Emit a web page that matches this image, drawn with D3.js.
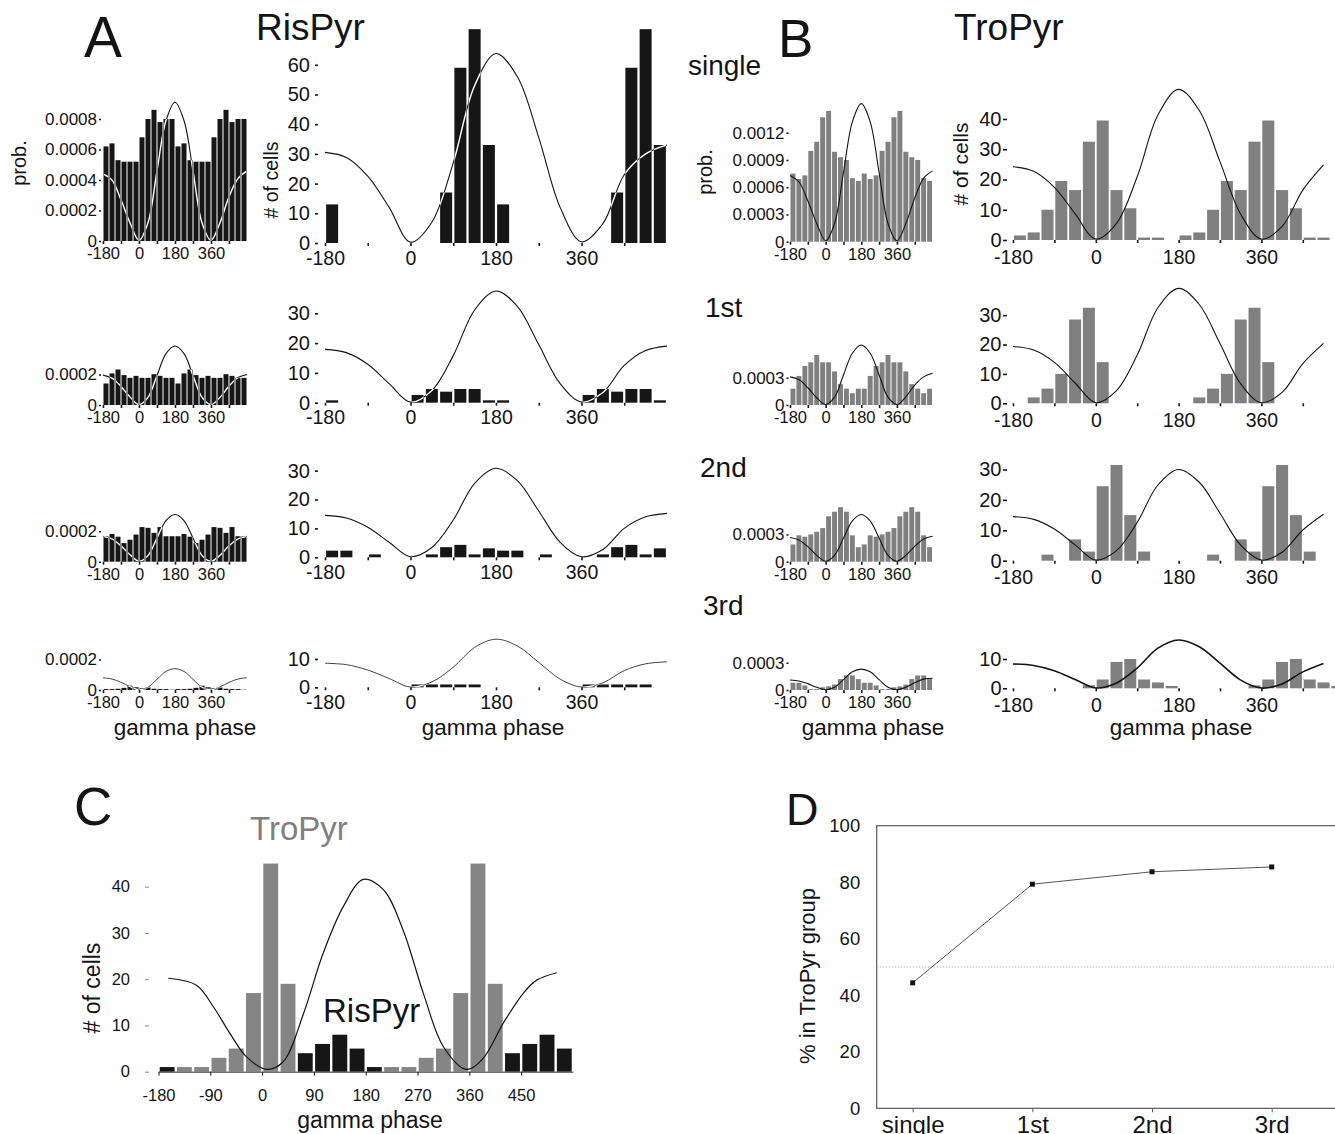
<!DOCTYPE html>
<html>
<head>
<meta charset="utf-8">
<script src="https://cdn.jsdelivr.net/npm/d3@7"></script>
<style>
  body { margin: 0; background: #fff; }
  svg { display: block; }
</style>
</head>
<body>
<svg id="fig" width="1335" height="1134"></svg>
<script>
// ---- data ----
var binStart = [-180,-150,-120,-90,-60,-30,0,30,60,90,120,150,180,210,240,270,300,330,360,390,420,450,480,510];
var phaseTicks = [-180,-90,0,90,180,270,360,450];
var phaseLabels = [-180,0,180,360];
var curvePhase = [-180,-135,-90,-45,0,45,90,135,180,225,270,315,360,405,450,495,540];
var curvePhaseB = [-180,-135,-90,-45,0,45,90,135,180,225,270,315,360,405,450,495];

// one gamma cycle of 30 deg bins; the figure shows it twice
var risProbSingle = [0.00062,0.00064,0.00053,0.00052,0.00052,0.00052,0.00068,0.0008,0.00086,0.00078,0.0008,0.0008];
var risProb1st = [0.000141,0.000207,0.000233,0.000196,0.000178,0.000191,0.000178,0.000178,0.000202,0.000191,0.000178,0.000178];
var risProb2nd = [0.000167,0.000182,0.000164,0.000122,0.000144,0.000178,0.000227,0.000222,0.000189,0.000227,0.000167,0.000167];
var risProb3rd = [0.000006,0.000006,0.000008,0.000014,0.000028,0.000018,0.000012,0.000016,0.000008,0.000006,0.000006,0.000002];

var risCountSingle = [13,0,0,0,0,0,0,0,17,59,72,33];
var risCount1st = [0.8,0,0,0,0,0,2.6,4.6,3.7,4.6,4.6,0.8];
var risCount2nd = [2.3,2.3,0,1,0,0,0,1,3.5,4.3,1,3.1];
var risCount3rd = [0,0,0,0,0,0,1,1,1,1,1,0];

var troProbSingle = [0.00075,0.00069,0.00073,0.001,0.0011,0.00137,0.00144,0.00099,0.00093,0.0009,0.0007,0.00067];
var troProb1st = [0.00018,0.00032,0.00043,0.00047,0.00055,0.00047,0.00047,0.00037,0.00023,0.00018,0.00013,0.00018];
var troProb2nd = [0.00019,0.00029,0.000275,0.0003,0.00033,0.00037,0.0005,0.00055,0.0006,0.00055,0.00029,0.00016];
var troProb3rd = [0.00008,0.00008,0.00005,0.00001,0.00001,0.00003,0.00004,0.00006,0.00012,0.00016,0.00016,0.00012];

var troCountSingle = [1.5,2.5,10,19.5,16.5,32.5,39.5,16.5,10.5,0.8,0.8,0];
var troCount1st = [0,2,5,10,28.5,32.5,14,0,0,0,0,0];
var troCount2nd = [0,0,2,0,7,3,24.5,31.5,15,3,0,0];
var troCount3rd = [0,0,0,0,0,1,3,9,10,3,2,0.8];

// gamma waveform overlays
var risProbCurveS = [0.00044,0.0004,0.00027,0.00012,0.000005,0.00012,0.00046,0.00079,0.00091,0.00079,0.00046,0.00012,0.000005,0.00012,0.00029,0.00041,0.00046];
var risProbCurve1 = [0.000196,0.000176,0.000122,0.000053,0.000003,0.00005,0.000194,0.000337,0.000387,0.000337,0.000194,0.00005,0.000003,0.00005,0.000124,0.00018,0.0002];
var risProbCurve2 = [0.000167,0.00015,0.000104,0.000045,0.000003,0.00004,0.000155,0.00027,0.00031,0.00027,0.000155,0.00004,0.000003,0.000042,0.000104,0.00015,0.000167];
var risProbCurve3 = [0.00008,0.000072,0.00005,0.000022,0.000002,0.000018,0.00007,0.000122,0.00014,0.000122,0.00007,0.000018,0.000002,0.00002,0.00005,0.000072,0.00008];

var risCountCurveS = [30.5,28.8,22.5,12,0.3,7,27,53,63.8,56,35.5,12,0.4,6.5,23,30,33];
var risCountCurve1 = [17.9,16.8,12.9,6.4,0.2,4.1,15.8,31.1,37.5,32.3,19.5,6.4,0.2,3.4,12.5,17.5,19];
var risCountCurve2 = [14.5,13.6,10.4,5.2,0.2,3.4,12.9,25.6,30.8,26.5,16,5.2,0.2,2.7,10,14,15.2];
var risCountCurve3 = [8.5,8,6.1,3.1,0.1,1.9,7.1,14.1,17,14.6,8.8,2.9,0.1,1.6,5.9,8.3,9];

var troProbCurveS = [0.00073,0.00066,0.00045,0.0002,0.00001,0.0002,0.00076,0.00132,0.00152,0.00132,0.00076,0.0002,0.00001,0.0002,0.00048,0.0007,0.00078];
var troProbCurve1 = [0.00031,0.00028,0.00019,0.00008,0.000005,0.000086,0.00033,0.00057,0.00066,0.00057,0.00033,0.000086,0.000005,0.00009,0.00022,0.00031,0.00035];
var troProbCurve2 = [0.000267,0.00024,0.000166,0.00007,0.000005,0.00007,0.00026,0.00045,0.00052,0.00045,0.00026,0.00007,0.000005,0.00007,0.00017,0.00025,0.00028];
var troProbCurve3 = [0.00011,0.0001,0.00007,0.00003,0.000003,0.00003,0.000115,0.0002,0.00023,0.0002,0.000115,0.00003,0.000003,0.00003,0.00008,0.00012,0.00013];

var troCountCurveS = [24.2,22.7,17.4,8.7,0.3,5.5,20.9,41.3,49.8,42.8,25.9,8.5,0.3,4.5,16.5,24.8];
var troCountCurve1 = [19.3,18.1,13.9,6.9,0.2,4.3,16.4,32.5,39.1,33.6,20.3,6.6,0.2,3.7,13.5,20.4];
var troCountCurve2 = [14.5,13.6,10.4,5.2,0.2,3.3,12.6,24.9,30,25.8,15.6,5.1,0.2,2.8,10.1,15.3];
var troCountCurve3 = [8.3,7.8,6,3,0.1,1.8,6.9,13.7,16.5,14.2,8.6,2.8,0.1,1.5,5.6,8.5];

// panel C
var mergedCount = [1,1,1,3,5,17,45,19,4,6,8,5];
var mergedGroup = ["Ris","Tro","Tro","Tro","Tro","Tro","Tro","Tro","Ris","Ris","Ris","Ris"];
var cTicks = [-180,-90,0,90,180,270,360,450];
var cPhase = [-163,-114,-85,-56,-27,8,37,72,106,141,176,211,245,280,315,355,384,419,454,477,512];
var cCurve = [20.2,18.7,14.1,8.3,3.2,0.5,2.2,12.6,25.6,35.7,41.6,39.3,30.6,17,5.4,0.5,2.9,10.5,17,19.8,21.4];

// panel D
var stages = ["single","1st","2nd","3rd"];
var troPct = [44.4,79.3,83.7,85.4];

// ---- drawing ----
var svg = d3.select("#fig");
var FONT = "'Liberation Sans', Arial, Helvetica, sans-serif";
var INK = "#141414";
var GREY = "#808080";
var defs = svg.append("defs");
var clipId = 0;

function label(txt, x, y, size, o) {
  o = o || {};
  var t = svg.append("text").attr("x", x).attr("y", y)
    .attr("font-family", FONT).attr("font-size", size)
    .attr("fill", o.fill || INK).attr("text-anchor", o.anchor || "start")
    .text(txt);
  if (o.rotate) t.attr("transform", "rotate(-90," + x + "," + y + ")");
  return t;
}

var probFmt = function(d) { return d === 0 ? "0" : d.toFixed(4); };
var countFmt = function(d) { return String(d); };

function histPanel(c) {
  var x = d3.scaleLinear().domain([-180, 540]).range([c.left, c.left + 720 * c.degPx]);
  var y = d3.scaleLinear().domain([0, c.yRef]).range([c.base, c.base - c.yRefPx]);
  var g = svg.append("g");
  var vals = c.values.concat(c.values);
  var step = x(binStart[1]) - x(binStart[0]);
  var bars = vals.map(function(v, i) {
    return { x: x(binStart[i]) + c.gap / 2, w: step - c.gap, y: y(v), h: c.base - y(v) };
  });

  g.selectAll(".bar").data(bars).enter().append("rect")
    .attr("class", "bar")
    .attr("x", function(d) { return d.x; })
    .attr("y", function(d) { return d.y; })
    .attr("width", function(d) { return d.w; })
    .attr("height", function(d) { return d.h; })
    .attr("fill", c.color);

  var line = d3.line()
    .x(function(d) { return x(d[0]); })
    .y(function(d) { return y(d[1]); })
    .curve(d3.curveCatmullRom.alpha(0.5));
  var pts = c.phase.map(function(p, i) { return [p, c.curve[i]]; });
  g.append("path").attr("d", line(pts)).attr("fill", "none")
    .attr("stroke", INK).attr("stroke-width", c.lw || 1.1);

  // where the wave crosses black bars it is drawn white
  if (c.white) {
    var id = "barclip" + (clipId++);
    defs.append("clipPath").attr("id", id).selectAll("rect").data(bars).enter().append("rect")
      .attr("x", function(d) { return d.x; })
      .attr("y", function(d) { return d.y; })
      .attr("width", function(d) { return d.w; })
      .attr("height", function(d) { return d.h; });
    g.append("path").attr("d", line(pts)).attr("fill", "none")
      .attr("stroke", "#fff").attr("stroke-width", 1.4)
      .attr("clip-path", "url(#" + id + ")");
  }

  var ya = g.append("g").attr("transform", "translate(" + c.yAxisX + ",0)")
    .call(d3.axisLeft(y).tickValues(c.yTicks).tickSize(c.yTick).tickPadding(c.yPad).tickFormat(c.yFmt));
  ya.select(".domain").remove();
  ya.attr("font-size", c.yFont).attr("font-family", FONT).attr("color", INK);
  ya.selectAll("line").attr("stroke-width", 1.6);

  var xa = g.append("g").attr("transform", "translate(0," + c.base + ")")
    .call(d3.axisBottom(x).tickValues(phaseTicks).tickSize(3).tickPadding(c.xPad)
      .tickFormat(function(d) { return phaseLabels.indexOf(d) >= 0 ? String(d) : ""; }));
  xa.select(".domain").remove();
  xa.attr("font-size", c.xFont).attr("font-family", FONT).attr("color", INK);
  xa.selectAll("line").attr("stroke-width", 1.6);
}

// panel A, small probability plots
var aSmall = { left: 103, degPx: 0.2, gap: 1, color: "#161616", yAxisX: 101, yTick: 2, yPad: 2,
  yFont: 17, yRef: 0.0002, yRefPx: 30.5, yFmt: probFmt, xPad: 3.5, xFont: 16.5, white: true, phase: curvePhase };
[
  { base: 241, values: risProbSingle, curve: risProbCurveS, yTicks: [0,0.0002,0.0004,0.0006,0.0008] },
  { base: 405, values: risProb1st, curve: risProbCurve1, yTicks: [0,0.0002] },
  { base: 561.7, values: risProb2nd, curve: risProbCurve2, yTicks: [0,0.0002] },
  { base: 690, values: risProb3rd, curve: risProbCurve3, yTicks: [0,0.0002], lw: 0.8 }
].forEach(function(r) { histPanel(Object.assign({}, aSmall, r)); });

// panel A, cell counts
var aLarge = { left: 325, degPx: 0.475, gap: 2.25, color: "#161616", yAxisX: 318, yTick: 3, yPad: 5,
  yFont: 20, yRef: 10, yFmt: countFmt, xPad: 4.7, xFont: 19.5, white: true, phase: curvePhase };
[
  { base: 243, yRefPx: 29.7, values: risCountSingle, curve: risCountCurveS, yTicks: [0,10,20,30,40,50,60] },
  { base: 402.7, yRefPx: 29.8, values: risCount1st, curve: risCountCurve1, yTicks: [0,10,20,30] },
  { base: 557.3, yRefPx: 28.9, values: risCount2nd, curve: risCountCurve2, yTicks: [0,10,20,30] },
  { base: 687.3, yRefPx: 28.3, values: risCount3rd, curve: risCountCurve3, yTicks: [0,10], lw: 0.8 }
].forEach(function(r) { histPanel(Object.assign({}, aLarge, r)); });

// panel B, small probability plots
var bSmall = { left: 790, degPx: 0.198, gap: 1, color: GREY, yAxisX: 788.5, yTick: 2, yPad: 2,
  yFont: 17, yRef: 0.0003, yRefPx: 27.25, yFmt: probFmt, xPad: 3.5, xFont: 16.5, white: false, phase: curvePhase };
[
  { base: 241.7, values: troProbSingle, curve: troProbCurveS, yTicks: [0,0.0003,0.0006,0.0009,0.0012] },
  { base: 405, values: troProb1st, curve: troProbCurve1, yTicks: [0,0.0003] },
  { base: 561.7, values: troProb2nd, curve: troProbCurve2, yTicks: [0,0.0003] },
  { base: 690, values: troProb3rd, curve: troProbCurve3, yTicks: [0,0.0003] }
].forEach(function(r) { histPanel(Object.assign({}, bSmall, r)); });

// panel B, cell counts
var bLarge = { left: 1013, degPx: 0.46, gap: 1.8, color: GREY, yAxisX: 1007, yTick: 4, yPad: 1.5,
  yFont: 20, yRef: 10, yFmt: countFmt, xPad: 6.7, xFont: 19.5, white: false, phase: curvePhaseB };
[
  { base: 240, yRefPx: 30.25, values: troCountSingle, curve: troCountCurveS, yTicks: [0,10,20,30,40] },
  { base: 403.3, yRefPx: 29.4, values: troCount1st, curve: troCountCurve1, yTicks: [0,10,20,30] },
  { base: 560.7, yRefPx: 30.4, values: troCount2nd, curve: troCountCurve2, yTicks: [0,10,20,30] },
  { base: 688.3, yRefPx: 29.3, values: troCount3rd, curve: troCountCurve3, yTicks: [0,10], lw: 1.6 }
].forEach(function(r) { histPanel(Object.assign({}, bLarge, r)); });

// headings of A and B
label("A", 84, 57, 57);
label("RisPyr", 256, 40, 37);
label("B", 778, 57, 53);
label("TroPyr", 954, 40, 37);
label("single", 688, 75, 28);
label("1st", 705, 317, 28);
label("2nd", 700, 477, 28);
label("3rd", 703, 615, 28);
label("prob.", 26, 163, 20, { anchor: "middle", rotate: true });
label("prob.", 712, 172, 20, { anchor: "middle", rotate: true });
label("# of cells", 278, 180, 19.5, { anchor: "middle", rotate: true });
label("# of cells", 968, 164, 21, { anchor: "middle", rotate: true });
label("gamma phase", 185, 735, 22.5, { anchor: "middle" });
label("gamma phase", 493, 735, 22.5, { anchor: "middle" });
label("gamma phase", 873, 735, 22.5, { anchor: "middle" });
label("gamma phase", 1181, 735, 22.5, { anchor: "middle" });

// ---- panel C ----
(function() {
  var base = 1071.7;
  var x = d3.scaleLinear().domain([-180, 540]).range([158.5, 158.5 + 720 * 0.5756]);
  var y = d3.scaleLinear().domain([0, 10]).range([base, base - 46.25]);
  var g = svg.append("g");
  var vals = mergedCount.concat(mergedCount);
  var grp = mergedGroup.concat(mergedGroup);
  var step = x(binStart[1]) - x(binStart[0]);

  g.selectAll(".cbar").data(vals).enter().append("rect")
    .attr("class", "cbar")
    .attr("x", function(d, i) { return x(binStart[i]) + 1.2; })
    .attr("y", function(d) { return y(d); })
    .attr("width", step - 2.4)
    .attr("height", function(d) { return base - y(d); })
    .attr("fill", function(d, i) { return grp[i] === "Ris" ? "#161616" : "#858585"; });

  var line = d3.line()
    .x(function(d) { return x(d[0]); })
    .y(function(d) { return y(d[1]); })
    .curve(d3.curveCatmullRom.alpha(0.5));
  g.append("path").attr("d", line(cPhase.map(function(p, i) { return [p, cCurve[i]]; })))
    .attr("fill", "none").attr("stroke", INK).attr("stroke-width", 1.2);

  var ya = g.append("g").attr("transform", "translate(149,0)")
    .call(d3.axisLeft(y).tickValues([0,10,20,30,40]).tickSize(4).tickPadding(15));
  ya.select(".domain").remove();
  ya.attr("font-size", 16.5).attr("font-family", FONT).attr("color", INK);
  ya.selectAll("line").attr("stroke", "#888");

  var xa = g.append("g").attr("transform", "translate(0," + base + ")")
    .call(d3.axisBottom(x).tickValues(cTicks).tickSize(4).tickSizeOuter(0).tickPadding(13.5)
      .tickFormat(function(d) { return String(d); }));
  xa.attr("font-size", 16.5).attr("font-family", FONT).attr("color", INK);
  xa.select(".domain").attr("stroke", "#333");

  label("C", 74, 825, 53);
  label("TroPyr", 250, 840, 33, { fill: GREY });
  label("RisPyr", 323, 1021.7, 33);
  label("# of cells", 100, 988, 23, { anchor: "middle", rotate: true });
  label("gamma phase", 370, 1128, 23, { anchor: "middle" });
})();

// ---- panel D ----
(function() {
  var top = 825.7, bottom = 1108.3, left = 876.7;
  var x = d3.scalePoint().domain(stages).range([912.7, 1271.7]);
  var y = d3.scaleLinear().domain([0, 100]).range([bottom, top]);
  var g = svg.append("g");

  g.append("rect").attr("x", left).attr("y", top).attr("width", 480).attr("height", bottom - top)
    .attr("fill", "none").attr("stroke", "#5a5a5a").attr("stroke-width", 1.2);
  g.append("line").attr("x1", left).attr("x2", 1335).attr("y1", y(50)).attr("y2", y(50))
    .attr("stroke", "#b8b8b8").attr("stroke-dasharray", "1.5,1.5");

  var line = d3.line().x(function(d, i) { return x(stages[i]); }).y(function(d) { return y(d); });
  g.append("path").attr("d", line(troPct)).attr("fill", "none").attr("stroke", "#555").attr("stroke-width", 1);
  g.selectAll(".pt").data(troPct).enter().append("rect")
    .attr("x", function(d, i) { return x(stages[i]) - 2.5; })
    .attr("y", function(d) { return y(d) - 2.5; })
    .attr("width", 5).attr("height", 5).attr("fill", INK);

  var ya = g.append("g").attr("transform", "translate(" + left + ",0)")
    .call(d3.axisLeft(y).tickValues([0,20,40,60,80,100]).tickSize(0).tickPadding(16.5));
  ya.select(".domain").remove();
  ya.attr("font-size", 18.5).attr("font-family", FONT).attr("color", INK);

  var xa = g.append("g").attr("transform", "translate(0," + bottom + ")")
    .call(d3.axisBottom(x).tickSize(4).tickPadding(4));
  xa.select(".domain").remove();
  xa.attr("font-size", 24).attr("font-family", FONT).attr("color", INK);
  xa.selectAll("line").attr("stroke", "#5a5a5a");

  label("D", 786, 825, 45);
  label("% in TroPyr group", 815, 976, 22, { anchor: "middle", rotate: true });
})();
</script>
</body>
</html>
